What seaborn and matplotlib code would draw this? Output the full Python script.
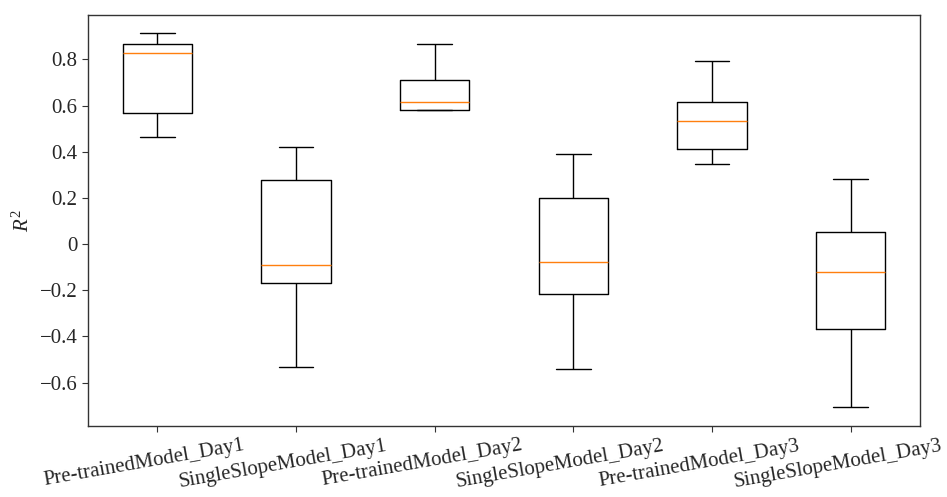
import numpy as np
import pandas as pd
import seaborn as sns
from matplotlib import pyplot as plt
from matplotlib.ticker import FuncFormatter
from matplotlib.transforms import ScaledTranslation

# five-number summaries: whisker low, Q1, median, Q3, whisker high
models = ["Pre-trainedModel_Day1", "SingleSlopeModel_Day1",
          "Pre-trainedModel_Day2", "SingleSlopeModel_Day2",
          "Pre-trainedModel_Day3", "SingleSlopeModel_Day3"]
pre_day1 = [0.463, 0.566, 0.827, 0.869, 0.913]
single_day1 = [-0.534, -0.167, -0.091, 0.276, 0.420]
pre_day2 = [0.580, 0.583, 0.615, 0.713, 0.866]
single_day2 = [-0.539, -0.217, -0.079, 0.198, 0.390]
pre_day3 = [0.349, 0.411, 0.534, 0.616, 0.795]
single_day3 = [-0.707, -0.366, -0.122, 0.052, 0.284]

values = [pre_day1, single_day1, pre_day2, single_day2, pre_day3, single_day3]
df = pd.DataFrame({
    "model": np.repeat(models, 5),
    "r2": np.concatenate(values),
})

sns.set_style("ticks")
plt.rcParams["font.family"] = ["Liberation Serif", "DejaVu Serif"]
plt.rcParams["mathtext.fontset"] = "custom"
plt.rcParams["mathtext.rm"] = "Liberation Serif"
plt.rcParams["mathtext.it"] = "Liberation Serif:italic"

fig = plt.figure(figsize=(9.47, 4.97), dpi=100)
ax = fig.add_axes([0.0929, 0.1429, 0.8786, 0.8275])

sns.boxplot(x="model", y="r2", data=df, ax=ax, order=models,
            fill=False, color="black", width=0.5, linewidth=1.0,
            whis=1.5, showfliers=False,
            medianprops={"color": "#ff7f0e", "linewidth": 1.0})

ax.set_xlim(-0.5, 5.5)
ax.set_yticks(np.arange(-0.6, 0.81, 0.2))
ax.yaxis.set_major_formatter(FuncFormatter(
    lambda v, p: "0" if abs(v) < 1e-9 else f"{v:.1f}".replace("-", "\u2212")))
ax.set_xlabel("")
ax.set_ylabel("$R^2$", fontsize=15)
ax.tick_params(axis="both", labelsize=15, direction="out", length=4, color="#333333")

# labels sit slightly left of their ticks in the reference
shift = ScaledTranslation(-13 / 100, 0, fig.dpi_scale_trans)
for lab in ax.get_xticklabels():
    lab.set_rotation(10)
    lab.set_transform(lab.get_transform() + shift)

for s in ax.spines.values():
    s.set_visible(True)
    s.set_color("#333333")
    s.set_linewidth(1.0)

plt.savefig("out.png", dpi=100)
